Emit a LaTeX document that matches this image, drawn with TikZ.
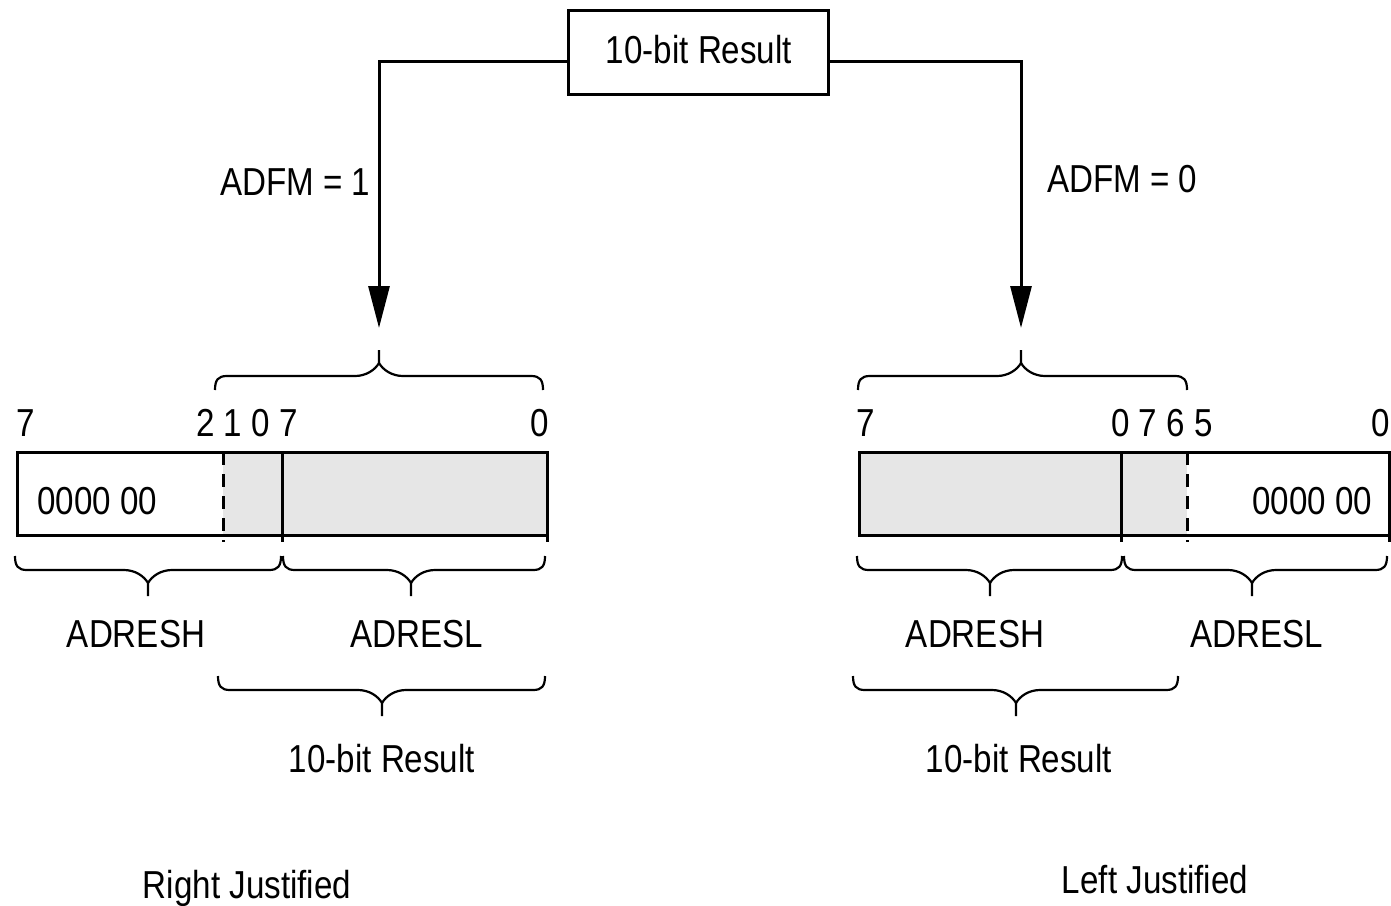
\documentclass[tikz,border=0pt]{standalone}
\usepackage{fontspec}
\setmainfont{Liberation Sans}[FakeStretch=0.85]
\usetikzlibrary{arrows.meta}
\newcommand{\regbrace}[5]{%
  \draw[bracestyle] (#1,{#4-14*(#5)}) .. controls (#1,{#4-4*(#5)}) and ({#1+3},#4) .. ({#1+12},#4)
     -- ({#2-24},#4) .. controls ({#2-13},#4) and ({#2-4},{#4+6*(#5)}) .. (#2,{#4+13*(#5)}) -- (#2,{#4+26*(#5)});
  \draw[bracestyle] (#3,{#4-14*(#5)}) .. controls (#3,{#4-4*(#5)}) and ({#3-3},#4) .. ({#3-12},#4)
     -- ({#2+24},#4) .. controls ({#2+13},#4) and ({#2+4},{#4+6*(#5)}) .. (#2,{#4+13*(#5)});
}
\tikzset{
  txt/.style={inner sep=0pt, font=\fontsize{39}{45}\selectfont},
  bracestyle/.style={line width=2.2pt, black},
  regline/.style={line width=3pt, black},
  flow/.style={line width=3pt, -{Triangle[width=21pt,length=42pt]}},
  resbox/.style={draw, line width=3pt, minimum width=260pt, minimum height=84pt, inner sep=0pt, font=\fontsize{39}{45}\selectfont},
}
\definecolor{regfill}{HTML}{E6E6E6}
\begin{document}
\begin{tikzpicture}[x=1pt,y=-1pt]
\useasboundingbox (0,0) rectangle (1391,905);
% top box
\node[resbox] (res) at (698,52) {};
\node[txt, anchor=base] (restxt) at (699,63) {10-bit Result};
\coordinate (aL) at (379,328);
\coordinate (aR) at (1021,328);
\draw[flow] ([yshift=-9pt]res.west) -| (aL);
\draw[flow] ([yshift=-9pt]res.east) -| (aR);
\node[txt, anchor=base west] (adfm1) at (220,195) {ADFM = 1};
\node[txt, anchor=base west] (adfm0) at (1047,192) {ADFM = 0};
% top braces
\regbrace{215}{379}{543}{376}{-1}
\regbrace{858}{1021}{1187}{376}{-1}
% left register
\fill[regfill] (223,452) rectangle (547,535);
\draw[regline] (17,452) rectangle (547,535);
\draw[regline, dash pattern=on 13pt off 9pt] (223,452) -- (223,542);
\draw[regline] (282,452) -- (282,542);
\draw[regline] (547,535) -- (547,542);
\node[txt, anchor=base west] (l7) at (16,436) {7};
\node[txt, anchor=base west] (l2107) at (196,436) {2 1 0 7};
\node[txt, anchor=base west] (l0) at (530,436) {0};
\node[txt, anchor=base west] (lzeros) at (37,514) {0000 00};
% right register
\fill[regfill] (859,452) rectangle (1187,535);
\draw[regline] (859,452) rectangle (1389,535);
\draw[regline] (1121,452) -- (1121,542);
\draw[regline, dash pattern=on 13pt off 9pt] (1187,452) -- (1187,542);
\draw[regline] (1389,535) -- (1389,542);
\node[txt, anchor=base west] (r7) at (856,436) {7};
\node[txt, anchor=base west] (r0765) at (1111,436) {0 7 6 5};
\node[txt, anchor=base west] (r0) at (1371,436) {0};
\node[txt, anchor=base west] (rzeros) at (1252,514) {0000 00};
% lower braces left
\regbrace{15}{148}{281}{570}{1}
\regbrace{283}{411}{545}{570}{1}
\node[txt, anchor=base] (ladresh) at (136,647) {ADRESH};
\node[txt, anchor=base] (ladresl) at (417,647) {ADRESL};
\regbrace{218}{382}{545}{690}{1}
\node[txt, anchor=base] (lres) at (382,772) {10-bit Result};
\node[txt, anchor=base] (lj) at (247,898) {Right Justified};
% lower braces right
\regbrace{857}{990}{1122}{570}{1}
\regbrace{1124}{1252}{1387}{570}{1}
\node[txt, anchor=base] (radresh) at (975,647) {ADRESH};
\node[txt, anchor=base] (radresl) at (1257,647) {ADRESL};
\regbrace{853}{1016}{1178}{690}{1}
\node[txt, anchor=base] (rres) at (1019,772) {10-bit Result};
\node[txt, anchor=base] (rj) at (1155,893) {Left Justified};
\end{tikzpicture}
\end{document}
